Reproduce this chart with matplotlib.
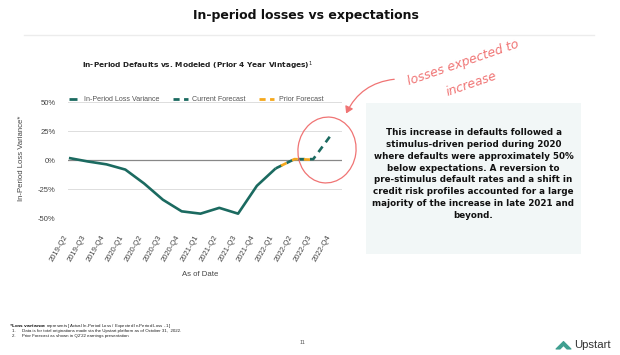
import matplotlib
matplotlib.use("Agg")
import matplotlib.pyplot as plt
from matplotlib.lines import Line2D
from matplotlib.patches import Rectangle, Ellipse, Polygon, FancyArrowPatch
from matplotlib.transforms import Affine2D, ScaledTranslation

# data
quarters = ['2019-Q2', '2019-Q3', '2019-Q4', '2020-Q1', '2020-Q2', '2020-Q3', '2020-Q4',
            '2021-Q1', '2021-Q2', '2021-Q3', '2021-Q4', '2022-Q1', '2022-Q2', '2022-Q3', '2022-Q4']
actual = [2, -1, -3.5, -8, -20, -34, -44, -46, -41, -46, -22, -7]
current_fc = [-7, 1, 1, 23]
prior_fc = [-7, 1, 0.5]
yticks = [-50, -25, 0, 25, 50]

teal = '#1b6a60'
orange = '#f5a81c'
red = '#f07474'
sans = ['Liberation Sans', 'DejaVu Sans']

fig = plt.figure(figsize=(6.2, 3.55), dpi=100)
# pixel coords from the top-left corner of the slide
pix = Affine2D().scale(1 / 620, -1 / 355).translate(0, 1) + fig.transFigure

# slide header
fig.text(306, 15, 'In-period losses vs expectations', transform=pix, ha='center', va='center',
         fontsize=9.0, fontweight='bold', color='#111111')
fig.add_artist(Line2D([24, 594], [35, 35], transform=pix, color='#ececec', lw=1))

fig.text(198, 66, 'In-Period Defaults vs. Modeled (Prior 4 Year Vintages)$^1$', transform=pix,
         ha='center', va='center', fontsize=5.3, fontweight='bold', color='#222222')

ax = fig.add_axes([68 / 620, 1 - 218.3 / 355, 274 / 620, 116 / 355])
x_act = list(range(len(actual)))
x_cur = list(range(len(actual) - 1, len(actual) - 1 + len(current_fc)))
x_pri = list(range(len(actual) - 1, len(actual) - 1 + len(prior_fc)))

ax.plot(x_act, actual, color=teal, lw=1.9, solid_capstyle='butt', clip_on=False, zorder=3)
ax.plot(x_cur, current_fc, color=teal, lw=1.9, linestyle=(0, (2.6, 2.0)), clip_on=False, zorder=3)
ax.plot(x_pri, prior_fc, color=orange, lw=1.9, linestyle=(2.3, (2.3, 2.3)), clip_on=False, zorder=4)

ax.set_xlim(-0.05, 14.53)
ax.set_ylim(-50, 50)
ax.set_yticks(yticks)
ax.set_yticklabels([f'{v}%' for v in yticks], fontsize=5.5, color='#444444', family=sans)
ax.set_xticks(range(len(quarters)))
ax.set_xticklabels(quarters, rotation=60, ha='right', va='top', fontsize=5.5, color='#444444',
                   family=sans)
for lab in ax.get_xticklabels():
    lab.set_transform(lab.get_transform() + ScaledTranslation(0.05, -0.02, fig.dpi_scale_trans))
ax.tick_params(length=0)
ax.tick_params(axis='y', pad=9)
ax.tick_params(axis='x', pad=11)
for s in ax.spines.values():
    s.set_visible(False)
for v in yticks:
    ax.axhline(v, color='#888888' if v == 0 else '#dddddd', lw=0.9 if v == 0 else 0.7, zorder=1)

handles = [Line2D([], [], color=teal, marker='_', markersize=6, markeredgewidth=2, linestyle='None'),
           Line2D([], [], color=teal, lw=2, linestyle=(0, (2.2, 1.6))),
           Line2D([], [], color=orange, lw=2, linestyle=(0, (2.2, 1.6)))]
ax.legend(handles, ['In-Period Loss Variance', 'Current Forecast', 'Prior Forecast'], ncol=3,
          loc='lower left', bbox_to_anchor=(-0.01, 0.99), frameon=False, handlelength=2.1,
          columnspacing=1.9, handletextpad=0.6, borderaxespad=0, borderpad=0,
          prop={'family': sans, 'size': 5.1}, labelcolor='#555555')

fig.text(22, 158, 'In-Period Loss Variance*', transform=pix, rotation=90, ha='center', va='center',
         fontsize=5.6, color='#444444', family=sans)
fig.text(200, 275, 'As of Date', transform=pix, ha='center', va='center', fontsize=5.6,
         color='#444444', family=sans)

# commentary box
fig.add_artist(Rectangle((366, 103), 215, 151, transform=pix, facecolor='#f2f7f7', edgecolor='none',
                         zorder=0))
fig.text(473.5, 174, 'This increase in defaults followed a\nstimulus-driven period during 2020\n'
         'where defaults were approximately 50%\nbelow expectations. A reversion to\n'
         'pre-stimulus default rates and a shift in\ncredit risk profiles accounted for a large\n'
         'majority of the increase in late 2021 and\nbeyond.',
         transform=pix, ha='center', va='center', fontsize=6.3, fontweight='bold',
         linespacing=1.39, color='#111111')

# hand-drawn annotation
fig.text(463, 63, 'losses expected to', transform=pix, rotation=19, ha='center', va='center',
         fontsize=9, style='italic', color=red)
fig.text(471, 84, 'increase', transform=pix, rotation=19, ha='center', va='center',
         fontsize=9, style='italic', color=red)
fig.add_artist(Ellipse((327, 150), 58, 66, angle=8, transform=pix, fill=False, edgecolor=red, lw=0.9))
fig.add_artist(FancyArrowPatch((397, 79), (345, 116), transform=pix, connectionstyle='arc3,rad=0.3',
                               arrowstyle='-|>,head_length=4,head_width=2.5', color=red,
                               facecolor='white', lw=0.9))

# footnotes
fig.text(9, 326, r'$\mathbf{*Loss\ variance}$ represents [Actual In-Period Loss / Expected In-Period Loss - 1]',
         transform=pix, ha='left', va='center', fontsize=3.2, color='#222222', family=sans)
fig.text(12, 331, '1.     Data is for total originations made via the Upstart platform as of October 31,  2022.',
         transform=pix, ha='left', va='center', fontsize=3.2, color='#222222', family=sans)
fig.text(12, 336, "2.     Prior Forecast as shown in Q2'22 earnings presentation",
         transform=pix, ha='left', va='center', fontsize=3.2, color='#222222', family=sans)
fig.text(303, 343, '11', transform=pix, ha='center', va='center', fontsize=4, color='#555555',
         family=sans)

# logo
fig.add_artist(Polygon([(556, 349), (563.5, 341.5), (571, 349), (567, 349), (563.5, 345.5), (560, 349)],
                       closed=True, transform=pix, facecolor='#3f9f90', edgecolor='#3f9f90', lw=0.8,
                       joinstyle='round'))
fig.text(574, 345.5, 'Upstart', transform=pix, ha='left', va='center', fontsize=8.2, color='#333333',
         family=sans)

fig.savefig('out.png', dpi=100)
